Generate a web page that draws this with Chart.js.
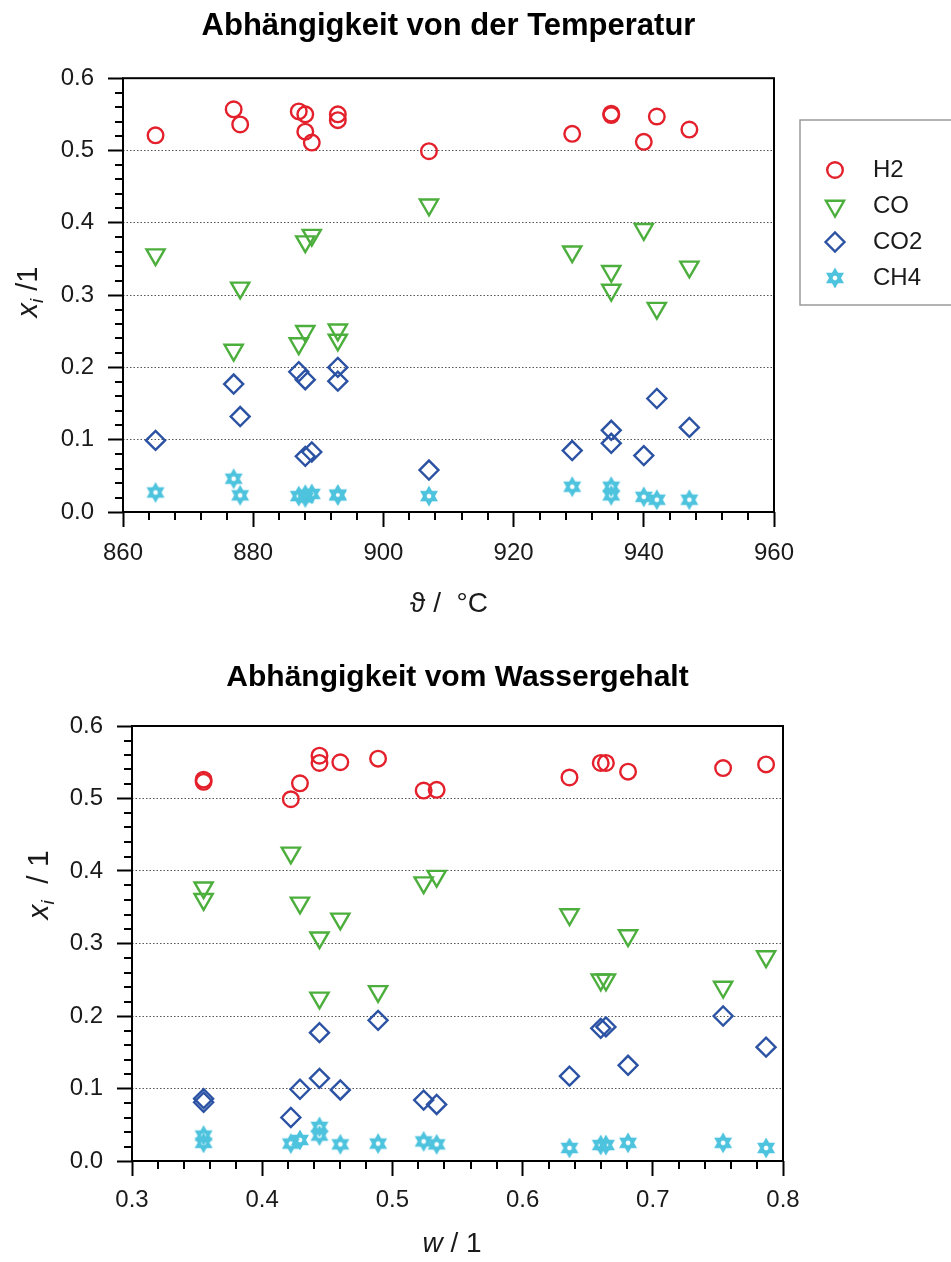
<!DOCTYPE html>
<html lang="de">
<head>
<meta charset="utf-8">
<title>Gaszusammensetzung</title>
<script src="https://cdn.jsdelivr.net/npm/chart.js@4.4.1/dist/chart.umd.min.js"></script>
<style>
  html, body { margin: 0; padding: 0; background: #fff; }
  #wrap { position: relative; width: 951px; height: 1262px; overflow: hidden; }
  canvas { position: absolute; left: 0; }
  #tempChart { top: 0; }
  #wasserChart { top: 640px; }
</style>
</head>
<body>
<div id="wrap">
  <canvas id="tempChart" width="951" height="640"></canvas>
  <canvas id="wasserChart" width="951" height="622"></canvas>
</div>
<script>
// ========== DATEN ==========
const spezies = ['H2', 'CO', 'CO2', 'CH4'];

// Abhängigkeit von der Temperatur (°C)
const temperatur = [865, 877, 878, 887, 888, 888, 889, 893, 893, 907, 929, 935, 935, 940, 942, 947];
const h2Temp  = [0.521, 0.557, 0.536, 0.554, 0.550, 0.526, 0.511, 0.550, 0.542, 0.499, 0.523, 0.551, 0.549, 0.512, 0.547, 0.529];
const coTemp  = [0.356, 0.224, 0.310, 0.233, 0.374, 0.250, 0.383, 0.252, 0.238, 0.425, 0.360, 0.333, 0.307, 0.391, 0.282, 0.339];
const co2Temp = [0.099, 0.177, 0.132, 0.194, 0.183, 0.077, 0.083, 0.200, 0.181, 0.058, 0.085, 0.113, 0.095, 0.078, 0.157, 0.117];
const ch4Temp = [0.027, 0.046, 0.023, 0.022, 0.024, 0.020, 0.025, 0.023, 0.024, 0.022, 0.035, 0.035, 0.023, 0.021, 0.017, 0.017];

// Abhängigkeit vom Wassergehalt (w / 1)
const wasser   = [0.355, 0.355, 0.422, 0.429, 0.444, 0.444, 0.460, 0.489, 0.524, 0.534, 0.636, 0.660, 0.664, 0.681, 0.754, 0.787];
const h2Wasser  = [0.526, 0.523, 0.499, 0.521, 0.559, 0.549, 0.550, 0.555, 0.511, 0.512, 0.529, 0.549, 0.549, 0.537, 0.542, 0.547];
const coWasser  = [0.377, 0.361, 0.425, 0.356, 0.308, 0.225, 0.334, 0.234, 0.384, 0.393, 0.340, 0.250, 0.250, 0.311, 0.240, 0.282];
const co2Wasser = [0.086, 0.081, 0.060, 0.099, 0.114, 0.177, 0.098, 0.194, 0.084, 0.078, 0.117, 0.183, 0.185, 0.132, 0.200, 0.157];
const ch4Wasser = [0.035, 0.025, 0.024, 0.029, 0.047, 0.035, 0.023, 0.024, 0.027, 0.023, 0.018, 0.022, 0.022, 0.025, 0.025, 0.018];

// Achsenbeschriftungen
const tempTicks   = [860, 880, 900, 920, 940, 960];
const wasserTicks = [0.3, 0.4, 0.5, 0.6, 0.7, 0.8];
const anteilTicks = [0.0, 0.1, 0.2, 0.3, 0.4, 0.5, 0.6];

// ========== STIL ==========
const SCHRIFT = '"Liberation Sans", Arial, sans-serif';
Chart.defaults.font.family = SCHRIFT;
Chart.defaults.color = '#1a1a1a';

// Davidstern für CH4
function hexagramm(farbe) {
  const c = document.createElement('canvas');
  c.width = 24; c.height = 24;
  const g = c.getContext('2d');
  g.strokeStyle = farbe;
  g.lineWidth = 3;
  const r = 7.4;
  [-90, 90].forEach(start => {
    g.beginPath();
    for (let k = 0; k < 3; k++) {
      const a = (start + k * 120) * Math.PI / 180;
      const px = 12 + r * Math.cos(a), py = 12 + r * Math.sin(a);
      if (k) g.lineTo(px, py); else g.moveTo(px, py);
    }
    g.closePath();
    g.stroke();
  });
  return c;
}

const stile = [
  { pointStyle: 'circle',   pointRadius: 7.8, pointRotation: 0,   farbe: '#e3202b' },
  { pointStyle: 'triangle', pointRadius: 10.5, pointRotation: 180, farbe: '#4cae3c' },
  { pointStyle: 'rectRot',  pointRadius: 9.5, pointRotation: 0,   farbe: '#2b52a3' },
  { pointStyle: hexagramm('#4ec3de'), pointRadius: 8, pointRotation: 0, farbe: '#4ec3de' }
];

function datensaetze(xs, reihen) {
  return reihen.map((werte, k) => ({
    label: spezies[k],
    data: xs.map((x, i) => ({ x: x, y: werte[i] })),
    pointStyle: stile[k].pointStyle,
    pointRadius: stile[k].pointRadius,
    pointRotation: stile[k].pointRotation,
    pointBorderColor: stile[k].farbe,
    pointBackgroundColor: 'rgba(0,0,0,0)',
    pointBorderWidth: 2.4,
    borderColor: stile[k].farbe,
    showLine: false
  }));
}

// ========== PLUGINS ==========
// Rahmen und Nebenstriche
const rahmenPlugin = {
  id: 'rahmen',
  afterDraw(chart, args, o) {
    const { ctx, chartArea: a } = chart;
    const xs = chart.scales.x, ys = chart.scales.y;
    ctx.save();
    ctx.strokeStyle = '#000';
    ctx.lineWidth = 2;
    ctx.beginPath();
    const nx = Math.round((xs.max - xs.min) / o.xNeben);
    for (let i = 0; i <= nx; i++) {
      if (i % 5 === 0) continue;
      const px = Math.round(xs.getPixelForValue(xs.min + i * o.xNeben));
      ctx.moveTo(px, a.bottom);
      ctx.lineTo(px, a.bottom + 8);
    }
    const ny = Math.round((ys.max - ys.min) / o.yNeben);
    for (let i = 0; i <= ny; i++) {
      if (i % 5 === 0) continue;
      const py = Math.round(ys.getPixelForValue(ys.min + i * o.yNeben));
      ctx.moveTo(a.left, py);
      ctx.lineTo(a.left - 8, py);
    }
    ctx.stroke();
    ctx.strokeRect(a.left, a.top, a.right - a.left, a.bottom - a.top);
    ctx.restore();
  }
};

// Achsentitel mit Kursiv und Index
const achsenTitelPlugin = {
  id: 'achsenTitel',
  afterDraw(chart, args, o) {
    const ctx = chart.ctx;
    (o.titel || []).forEach(t => {
      ctx.save();
      ctx.translate(t.x, t.y);
      if (t.senkrecht) ctx.rotate(-Math.PI / 2);
      ctx.fillStyle = '#1a1a1a';
      ctx.textBaseline = 'alphabetic';
      let w = 0;
      t.teile.forEach(p => { ctx.font = p.f; p.w = ctx.measureText(p.t).width; w += p.w; });
      let x = -w / 2;
      t.teile.forEach(p => { ctx.font = p.f; ctx.fillText(p.t, x, 10 + (p.dy || 0)); x += p.w; });
      ctx.restore();
    });
  }
};

// Legende im Kasten
const legendePlugin = {
  id: 'legende',
  afterDraw(chart, args, o) {
    if (!o.anzeigen) return;
    const ctx = chart.ctx;
    ctx.save();
    ctx.strokeStyle = '#9a9a9a';
    ctx.lineWidth = 1.5;
    ctx.strokeRect(o.links, o.oben, o.breite, o.hoehe);
    ctx.textBaseline = 'middle';
    chart.data.datasets.forEach((ds, i) => {
      const y = o.ersteZeile + i * o.abstand;
      ctx.strokeStyle = ds.pointBorderColor;
      ctx.fillStyle = 'rgba(0,0,0,0)';
      ctx.lineWidth = ds.pointBorderWidth;
      Chart.helpers.drawPoint(ctx, {
        pointStyle: ds.pointStyle, radius: ds.pointRadius,
        rotation: ds.pointRotation, borderWidth: ds.pointBorderWidth
      }, o.markerX, y);
      ctx.fillStyle = '#1a1a1a';
      ctx.font = '24px ' + SCHRIFT;
      ctx.fillText(ds.label, o.textX, y);
    });
    ctx.restore();
  }
};

// ========== DIAGRAMME ==========
function diagramm(canvasId, cfg) {
  return new Chart(document.getElementById(canvasId), {
    type: 'scatter',
    data: { datasets: datensaetze(cfg.xs, cfg.reihen) },
    plugins: [rahmenPlugin, achsenTitelPlugin, legendePlugin],
    options: {
      responsive: false,
      animation: false,
      events: [],
      layout: { padding: { top: 0, left: 0, bottom: 0, right: cfg.rechts } },
      plugins: {
        legend: { display: false },
        tooltip: { enabled: false },
        title: {
          display: true, fullSize: false, text: cfg.titel, color: '#000',
          font: { size: cfg.titelGroesse, weight: 'bold' },
          padding: cfg.titelAbstand
        },
        rahmen: { xNeben: cfg.xNeben, yNeben: 0.02 },
        achsenTitel: { titel: cfg.achsenTitel },
        legende: cfg.legende
      },
      scales: {
        x: {
          type: 'linear', min: cfg.xMin, max: cfg.xMax,
          afterBuildTicks: s => { s.ticks = cfg.xTicks.map(v => ({ value: v })); },
          afterFit: s => { s.height = cfg.xHoehe; },
          grid: { drawOnChartArea: false, tickLength: 15, tickColor: '#000', tickWidth: 2 },
          border: { display: false },
          ticks: {
            padding: cfg.xPad, maxRotation: 0, autoSkip: false, color: '#1a1a1a',
            font: { size: 24 },
            callback: cfg.xFormat
          }
        },
        y: {
          min: 0, max: 0.6,
          afterBuildTicks: s => { s.ticks = anteilTicks.map(v => ({ value: v })); },
          afterFit: s => { s.width = cfg.yBreite; },
          grid: {
            color: c => (c.tick && (c.tick.value < 0.01 || c.tick.value > 0.59)) ? 'rgba(0,0,0,0)' : '#555',
            lineWidth: 1, tickLength: 15, tickColor: '#000', tickWidth: 2
          },
          border: { display: false, dash: [1.5, 2] },
          ticks: {
            padding: 14, color: '#1a1a1a',
            font: { size: 24 },
            callback: v => v.toFixed(1)
          }
        }
      }
    }
  });
}

diagramm('tempChart', {
  titel: 'Abhängigkeit von der Temperatur',
  titelGroesse: 31,
  titelAbstand: { top: 8, bottom: 33 },
  xs: temperatur,
  reihen: [h2Temp, coTemp, co2Temp, ch4Temp],
  xMin: 860, xMax: 960, xTicks: tempTicks, xNeben: 4,
  xFormat: v => String(v),
  xHoehe: 128, xPad: 12, yBreite: 123, rechts: 177,
  achsenTitel: [
    { x: 27, y: 292, senkrecht: true, teile: [
      { t: 'x', f: 'italic 29px ' + SCHRIFT },
      { t: 'i', f: 'italic 19px ' + SCHRIFT, dy: 6 },
      { t: ' /1', f: '29px ' + SCHRIFT }
    ] },
    { x: 449, y: 602, teile: [
      { t: 'ϑ /  °C', f: '28px ' + SCHRIFT }
    ] }
  ],
  legende: { anzeigen: true, links: 800, oben: 120, breite: 170, hoehe: 185,
             ersteZeile: 170, abstand: 36, markerX: 835, textX: 873 }
});

diagramm('wasserChart', {
  titel: 'Abhängigkeit vom Wassergehalt',
  titelGroesse: 30,
  titelAbstand: { top: 20, bottom: 30 },
  xs: wasser,
  reihen: [h2Wasser, coWasser, co2Wasser, ch4Wasser],
  xMin: 0.3, xMax: 0.8, xTicks: wasserTicks, xNeben: 0.02,
  xFormat: v => v.toFixed(1),
  xHoehe: 101, xPad: 10, yBreite: 132, rechts: 168,
  achsenTitel: [
    { x: 38, y: 245, senkrecht: true, teile: [
      { t: 'x', f: 'italic 30px ' + SCHRIFT },
      { t: 'i', f: 'italic 19px ' + SCHRIFT, dy: 6 },
      { t: '  / 1', f: '30px ' + SCHRIFT }
    ] },
    { x: 452, y: 602, teile: [
      { t: 'w', f: 'italic 28px ' + SCHRIFT },
      { t: ' / 1', f: '28px ' + SCHRIFT }
    ] }
  ],
  legende: { anzeigen: false }
});
</script>
</body>
</html>
